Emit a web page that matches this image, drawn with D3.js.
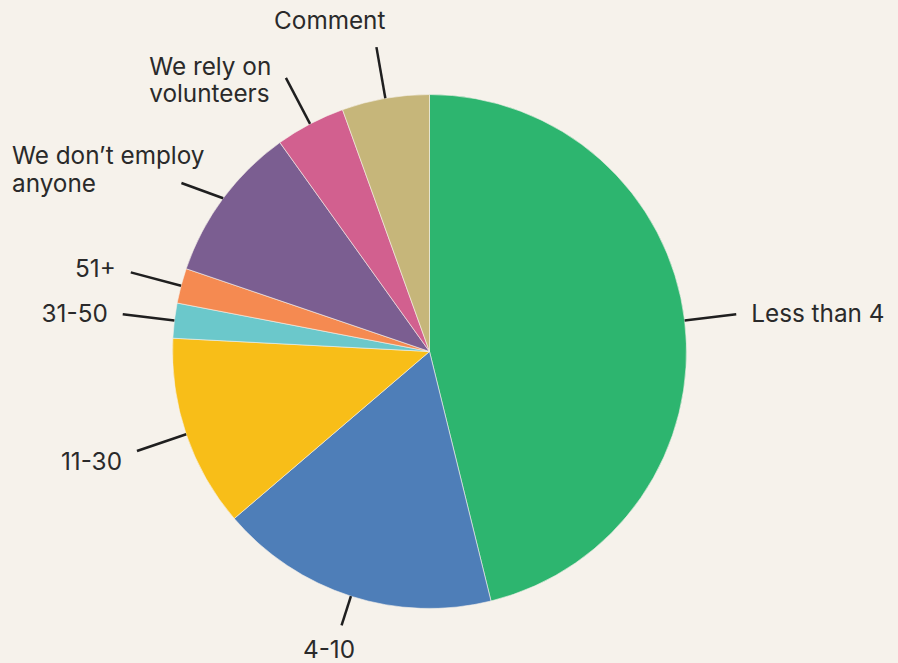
<!DOCTYPE html>
<html>
<head>
<meta charset="utf-8">
<script src="https://cdn.jsdelivr.net/npm/d3@7"></script>
<style>
  html, body { margin: 0; padding: 0; background: #f6f2eb; }
  svg { display: block; }
  text { font-family: Inter, "Noto Sans", sans-serif; fill: #2a2a2a; }
</style>
</head>
<body>
<svg id="chart"></svg>
<script>
// responses per staff size band
const categories = ["Less than 4", "4-10", "11-30", "31-50", "51+",
  "We don’t employ anyone", "We rely on volunteers", "Comment"];
const counts = [84, 32, 22, 4, 4, 18, 8, 10];
const labelLines = [["Less than 4"], ["4-10"], ["11-30"], ["31-50"], ["51+"],
  ["We don’t employ", "anyone"], ["We rely on", "volunteers"], ["Comment"]];
const sliceColors = ["#2db56f", "#4e7eb8", "#f8be18", "#6bc8cb", "#f58a51",
  "#7b5e91", "#d2608f", "#c6b67a"];

const width = 898, height = 663;
const cx = 429.5, cy = 351.5, radius = 257;
const lead = 52, gap = 15, lineH = 27.5, margin = 12;
const fontSize = 24.3, capH = fontSize * 0.727;

const svg = d3.select("#chart")
  .attr("width", width)
  .attr("height", height);

const data = categories.map((c, i) => ({ name: c, value: counts[i], lines: labelLines[i], color: sliceColors[i] }));

const pie = d3.pie().sort(null).value(d => d.value);
const arc = d3.arc().innerRadius(0).outerRadius(radius);
const arcs = pie(data);

svg.append("g")
  .attr("transform", `translate(${cx},${cy})`)
  .selectAll("path")
  .data(arcs)
  .join("path")
  .attr("d", arc)
  .attr("fill", d => d.data.color)
  .attr("stroke", "#f6f2eb")
  .attr("stroke-width", 0.6);

const lineLayer = svg.append("g");
const textLayer = svg.append("g");

arcs.forEach(function (a) {
  const mid = (a.startAngle + a.endAngle) / 2;
  const ux = Math.sin(mid), uy = -Math.cos(mid);
  const p0 = [cx + radius * ux, cy + radius * uy];
  let p1 = [cx + (radius + lead) * ux, cy + (radius + lead) * uy];
  const n = a.data.lines.length;

  const t = textLayer.append("text").attr("font-size", fontSize);
  const spans = a.data.lines.map(s => t.append("tspan").text(s));
  const w = d3.max(spans, s => s.node().getComputedTextLength());

  let x0, yFirst;
  if (Math.abs(ux) > 0.35) {
    // side labels, pushed a bit away vertically near the horizontal
    const bias = Math.abs(uy) < 0.5 ? uy * 25 : 0;
    x0 = ux > 0 ? p1[0] + gap : p1[0] - gap - w;
    yFirst = p1[1] + 2 + bias - (n - 1) * lineH / 2;
    if (x0 < margin) {
      x0 = margin;
      if (x0 + w > p1[0] - gap) p1 = [p1[0], yFirst + (n - 1) * lineH];
    }
    if (x0 + w > width - 1) x0 = width - 1 - w;
  } else if (uy > 0) {
    // below the pie, kept inside the frame
    yFirst = Math.min(p1[1] + gap + capH / 2, height - capH / 2 - 5);
    const ty = yFirst - gap - capH / 2;
    const k = (ty - p0[1]) / uy;
    p1 = [p0[0] + ux * k, p0[1] + uy * k];
    x0 = p1[0] + ux * (w / 2 + gap) - w / 2;
  } else {
    // above the pie
    yFirst = p1[1] - 18 - capH / 2 - (n - 1) * lineH;
    x0 = ux < 0 ? p1[0] + 9 - w : p1[0] - 9;
  }

  spans.forEach((s, k) => s.attr("x", x0).attr("y", yFirst + k * lineH).attr("dy", "0.36em"));

  lineLayer.append("line")
    .attr("x1", p0[0]).attr("y1", p0[1])
    .attr("x2", p1[0]).attr("y2", p1[1])
    .attr("stroke", "#1f1f1f")
    .attr("stroke-width", 2.5);
});
</script>
</body>
</html>
